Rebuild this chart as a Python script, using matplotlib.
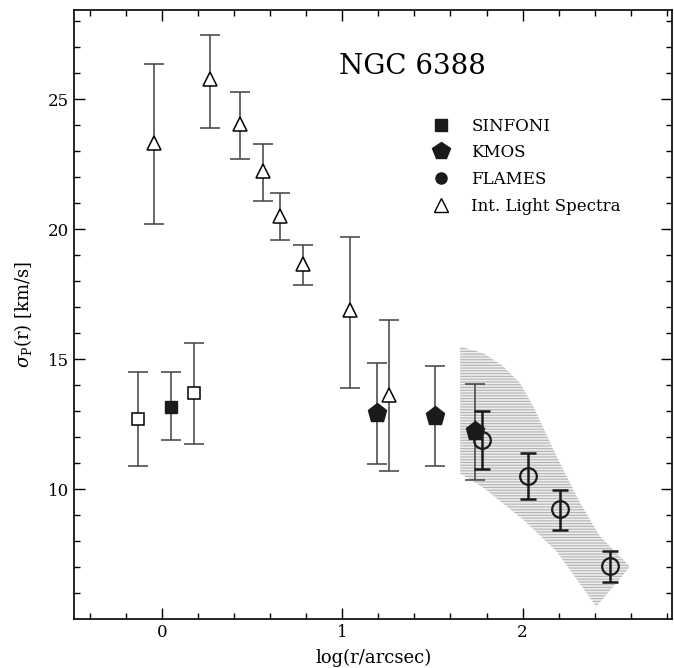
import numpy as np
import matplotlib
matplotlib.use("Agg")
import matplotlib.pyplot as plt
from matplotlib.lines import Line2D
from matplotlib.patches import Polygon

plt.rcParams['font.family'] = ['DejaVu Serif']
plt.rcParams['mathtext.fontset'] = 'dejavuserif'
plt.rcParams['hatch.linewidth'] = 0.8

# Integrated light spectra (open triangles)
ils_x = [-0.045, 0.263, 0.431, 0.560, 0.651, 0.780, 1.040, 1.257]
ils_y = [23.33, 25.77, 24.04, 22.24, 20.51, 18.65, 16.90, 13.63]
ils_lo = [20.20, 23.88, 22.69, 21.09, 19.59, 17.85, 13.90, 10.70]
ils_hi = [26.37, 27.46, 25.28, 23.27, 21.38, 19.38, 19.70, 16.50]

# SINFONI (filled square) and open squares
sinf_x = [0.047]
sinf_y = [13.17]
sinf_lo = [11.87]
sinf_hi = [14.51]
osq_x = [-0.137, 0.173]
osq_y = [12.69, 13.69]
osq_lo = [10.87, 11.73]
osq_hi = [14.51, 15.63]

# KMOS (filled pentagons)
kmos_x = [1.192, 1.515, 1.737]
kmos_y = [12.92, 12.82, 12.22]
kmos_lo = [10.95, 10.90, 10.33]
kmos_hi = [14.87, 14.72, 14.05]

# FLAMES (open circles, thick bars)
fl_x = [1.774, 2.029, 2.208, 2.485]
fl_y = [11.90, 10.51, 9.24, 7.02]
fl_lo = [10.79, 9.62, 8.43, 6.43]
fl_hi = [13.00, 11.37, 9.97, 7.60]

# shaded model region outline
band_x = [1.654, 1.783, 1.894, 1.986, 2.060, 2.190, 2.320, 2.430, 2.596,
          2.520, 2.410, 2.190, 2.000, 1.783, 1.654]
band_y = [15.48, 15.23, 14.72, 14.08, 13.18, 11.25, 9.46, 8.18, 7.02,
          6.38, 5.48, 7.60, 8.85, 10.05, 10.60]


def yerr(y, lo, hi):
    y = np.array(y)
    return [y - np.array(lo), np.array(hi) - y]


fig = plt.figure(figsize=(6.74, 6.68), dpi=100)
ax = fig.add_axes([0.110, 0.0734, 0.887, 0.912])

ax.add_patch(Polygon(np.column_stack([band_x, band_y]), closed=True,
                     facecolor='0.93', edgecolor='0.7', hatch='------',
                     linewidth=0, zorder=1))

thin = dict(fmt='none', ecolor='0.25', elinewidth=1.1, capsize=7, capthick=1.1, zorder=2)
ax.errorbar(ils_x, ils_y, yerr=yerr(ils_y, ils_lo, ils_hi), **thin)
ax.errorbar(sinf_x, sinf_y, yerr=yerr(sinf_y, sinf_lo, sinf_hi), **thin)
ax.errorbar(osq_x, osq_y, yerr=yerr(osq_y, osq_lo, osq_hi), **thin)
ax.errorbar(kmos_x, kmos_y, yerr=yerr(kmos_y, kmos_lo, kmos_hi), **thin)
ax.errorbar(fl_x, fl_y, yerr=yerr(fl_y, fl_lo, fl_hi), fmt='none', ecolor='0.1',
            elinewidth=1.8, capsize=6, capthick=1.8, zorder=2)

ax.plot(ils_x, ils_y, ls='none', marker='^', ms=10, mfc='white', mec='black', mew=1.1, zorder=3)
ax.plot(osq_x, osq_y, ls='none', marker='s', ms=8.5, mfc='white', mec='black', mew=1.1, zorder=3)
ax.plot(sinf_x, sinf_y, ls='none', marker='s', ms=8.5, color='0.1', zorder=3)
ax.plot(kmos_x, kmos_y, ls='none', marker='p', ms=14, color='0.1', zorder=3)
ax.plot(fl_x, fl_y, ls='none', marker='o', ms=12, mfc='none', mec='0.1', mew=1.6, zorder=4)

ax.text(1.39, 26.25, 'NGC 6388', fontsize=20, ha='center', va='center')

handles = [
    Line2D([], [], ls='none', marker='s', ms=8, color='0.1'),
    Line2D([], [], ls='none', marker='p', ms=13, color='0.1'),
    Line2D([], [], ls='none', marker='o', ms=8, color='0.1'),
    Line2D([], [], ls='none', marker='^', ms=10, mfc='white', mec='black', mew=1.0),
]
labels = ['SINFONI', 'KMOS', 'FLAMES', 'Int. Light Spectra']
ax.legend(handles, labels, loc='upper left', bbox_to_anchor=(0.586, 0.834),
          frameon=False, fontsize=12, handletextpad=1.2, labelspacing=0.58,
          handlelength=1.2, borderaxespad=0)

ax.set_xlim(-0.49, 2.83)
ax.set_ylim(5.0, 28.45)
ax.set_xticks([0, 1, 2])
ax.set_yticks([10, 15, 20, 25])
ax.set_xticks(np.arange(-0.4, 2.81, 0.2), minor=True)
ax.set_yticks(np.arange(6, 29, 1), minor=True)
ax.tick_params(which='both', direction='in', top=True, right=True, labelsize=12, width=1)
ax.tick_params(which='major', length=8)
ax.tick_params(which='minor', length=4)
for s in ax.spines.values():
    s.set_linewidth(1.2)

ax.set_xlabel('log(r/arcsec)', fontsize=13, labelpad=6)
ax.set_ylabel(r'$\sigma_{\rm P}$(r) [km/s]', fontsize=13, labelpad=10)

fig.savefig('out.png', dpi=100)
